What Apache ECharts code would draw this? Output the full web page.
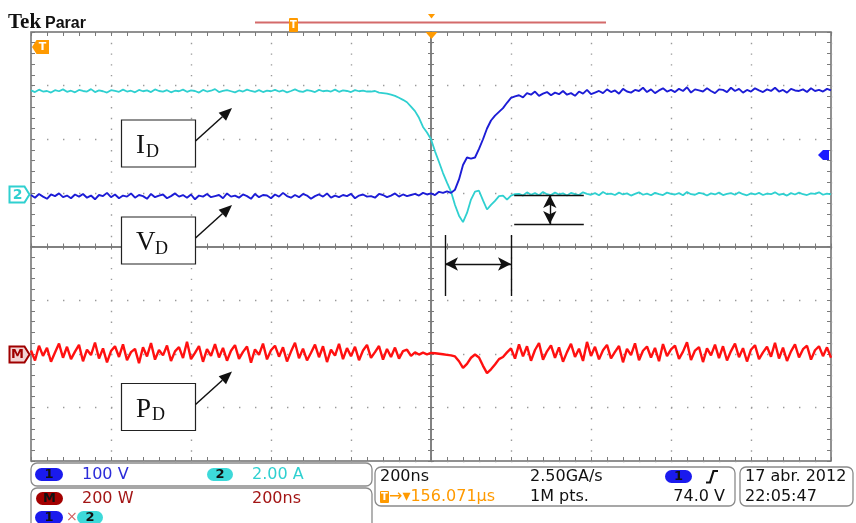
<!DOCTYPE html>
<html>
<head>
<meta charset="utf-8">
<script src="https://cdn.jsdelivr.net/npm/echarts@6.0.0/dist/echarts.min.js"></script>
<style>
  html, body { margin: 0; padding: 0; background: #fff; }
  #chart { width: 856px; height: 523px; }
</style>
</head>
<body>
<div id="chart"></div>
<script>
// sample clock: one point every 10 ns, 10 div x 200 ns/div centred on the trigger
const sampleStartNs = -1000;
const sampleStepNs = 10;

// CH2 – drain current I_D (A), 2.00 A/div
const currentA = [
  3.82, 3.76, 3.85, 3.78, 3.80, 3.74, 3.83, 3.79, 3.86, 3.77,
  3.81, 3.75, 3.84, 3.80, 3.78, 3.87, 3.76, 3.82, 3.79, 3.74,
  3.83, 3.80, 3.77, 3.85, 3.78, 3.81, 3.75, 3.84, 3.79, 3.82,
  3.76, 3.86, 3.80, 3.78, 3.83, 3.75, 3.81, 3.79, 3.85, 3.77,
  3.82, 3.80, 3.74, 3.84, 3.78, 3.81, 3.87, 3.76, 3.80, 3.83,
  3.79, 3.75, 3.82, 3.78, 3.85, 3.80, 3.77, 3.83, 3.76, 3.81,
  3.79, 3.84, 3.78, 3.82, 3.75, 3.80, 3.86, 3.79, 3.77, 3.83,
  3.80, 3.76, 3.84, 3.79, 3.81, 3.78, 3.85, 3.77, 3.82, 3.80,
  3.76, 3.83, 3.79, 3.81, 3.78,
  3.78, 3.80, 3.74, 3.72, 3.70, 3.66, 3.62, 3.55, 3.47, 3.38,
  3.22, 3.05, 2.80, 2.46, 2.25, 2.00, 1.55, 1.15, 0.74, 0.38,
  0.05, -0.45, -0.85, -1.09, -0.75, -0.25, 0.05, 0.08, -0.28, -0.62,
  -0.45, -0.30, -0.12, -0.10, -0.25, -0.10, -0.05,
  -0.04, -0.10, 0.02, -0.07, -0.01, -0.09, 0.03, -0.05, -0.08, 0.01,
  -0.06, -0.02, -0.10, 0.00, -0.05, -0.08, 0.02, -0.04, -0.07, -0.01,
  -0.09, 0.03, -0.05, -0.03, -0.08, 0.01, -0.06, -0.02, -0.10, -0.04,
  0.02, -0.07, -0.03, -0.09, 0.00, -0.05, -0.08, 0.01, -0.04, -0.06,
  -0.01, -0.09, 0.03, -0.05, -0.07, 0.00, -0.03, -0.10, -0.02, -0.06,
  0.01, -0.08, -0.04, -0.01, -0.07, 0.02, -0.05, -0.09, -0.02, -0.06,
  0.00, -0.08, -0.03, -0.05, 0.02, -0.07, -0.04, -0.10, -0.01, -0.06,
  0.01, -0.05, -0.08, -0.02, -0.04, 0.02, -0.07, -0.03, -0.06
];

// CH1 – drain voltage V_D (V), 100 V/div
const voltageV = [
  -4, -9, -2, -7, -11, -3, -6, -1, -8, -5,
  -10, -3, -7, -2, -9, -5, -12, -4, -6, 0,
  -8, -3, -10, -5, -7, -1, -9, -4, -6, -11,
  -2, -8, -5, -3, -10, -6, -1, -7, -4, -9,
  -3, -12, -5, -7, -2, -8, -6, -4, -10, -1,
  -7, -5, -9, -3, -6, -11, -2, -8, -4, -5,
  -10, -3, -7, 0, -6, -9, -4, -8, -2, -5,
  -11, -6, -3, -7, -1, -9, -5, -8, -4, -6,
  -2, -10, -5, -3, -7, -6, -9, -2, -4, -8,
  -5, -1, -7, -3, -6, -4, -2, -5, 0, -3,
  -1, -4, 2, 0, 3,
  0, 6, 25, 52, 66, 64, 66, 82, 100, 120,
  135, 144, 151, 158, 168, 177, 180, 182,
  178, 186, 183, 189, 181, 185, 188, 182, 187, 184,
  190, 183, 186, 181, 189, 185, 192, 184, 187, 190,
  186, 193, 188, 191, 185, 194, 189, 187, 192, 190,
  196, 188, 193, 186, 191, 195, 189, 192, 188, 194,
  190, 197, 187, 193, 191, 189, 195, 190, 186, 193,
  192, 188, 196, 190, 194, 187, 192, 189, 195, 191,
  188, 193, 190, 196, 189, 192, 187, 194, 191, 190,
  193, 188, 195, 190, 192, 189, 194, 191
];

// M = CH1 x CH2 – power P_D (W), 200 W/div
const powerW = [
  12, -25, 30, -8, 22, -30, 5, 38, -15, 26,
  -20, 8, 33, -28, 15, -5, 42, -18, 20, -32,
  10, 28, -12, 35, -24, 6, 18, -35, 24, -10,
  40, -22, 14, -6, 31, -27, 9, 25, -16, 45,
  -20, 3, 29, -30, 17, -8, 36, -14, 22, -26,
  11, 32, -19, 7, 27, -33, 16, -4, 38, -21,
  13, 30, -11, 24, -29, 8, 41, -17, 19, -25,
  4, 34, -13, 28, -31, 15, -7, 37, -20, 21,
  -9, 26, -24, 12, 33, -15, 6, 29, -22, 18,
  -12, 23, -18, 10, 15, -8,
  5, -3, 4, -2, 3, 2, 0, -2, -4, -6,
  -10, -28, -53, -38, -15, -3, -14, -45, -72, -58,
  -40, -20, -12, 5,
  20, -18, 35, -10, 28, -26, 14, 40, -22, 9,
  31, -15, 24, -30, 6, 37, -12, 19, -27, 44,
  -8, 26, -21, 13, 33, -17, 7, 29, -32, 18,
  -5, 39, -24, 11, 27, -14, 22, -28, 36, -9,
  16, 30, -19, 8, 43, -23, 12, 25, -31, 20,
  -6, 34, -16, 28, -25, 10, 38, -13, 21, -29,
  15, 32, -20, 5, 26, -11, 41, -18, 23, -27,
  9, 35, -14, 17, 30, -22, 13, 28, -9, 24,
  -15
];

// cursor marks (time in ns, height in screen divisions)
const delayMarkNs = [35, 200];
const delayMarkDiv = -0.326;
const delayBarDiv = [0.214, -0.923];
const stepMarkNs = [208, 382];
const stepArrowNs = 297;
const stepMarkDiv = [0.96, 0.42];

const gridColor = '#7a7a7a';
const dotColor = '#9a9a9a';
const cyan = '#2fd0d0';
const blue = '#1c1cd6';
const red = '#ff1010';
const orange = '#ff9a00';

const toPoints = (values) => values.map((v, i) => [sampleStartNs + i * sampleStepNs, v]);

const tickAxis = (extra) => Object.assign({
  axisLabel: { show: false },
  splitLine: { show: false },
  axisLine: { show: false, onZero: false },
  axisTick: { show: true, inside: true, length: 4, lineStyle: { color: gridColor, width: 1 } },
  minorTick: { show: true, splitNumber: 5, length: 4, lineStyle: { color: gridColor, width: 1 } }
}, extra);

const timeAxis = (extra) => tickAxis(Object.assign({ type: 'value', min: -1000, max: 1000, interval: 200 }, extra));
const divAxis = (extra) => tickAxis(Object.assign({ type: 'value', min: -4, max: 4, interval: 1 }, extra));

const centreLine = { show: true, onZero: true, onZeroAxisIndex: 0, lineStyle: { color: gridColor, width: 1.5 } };

const txt = (x, y, text, fill, size, extra) => ({
  type: 'text', x, y, z: 110,
  style: Object.assign({
    text, fill, fontSize: size, fontFamily: 'DejaVu Sans',
    align: 'left', verticalAlign: 'middle', textAlign: 'left', textVerticalAlign: 'middle'
  }, extra || {})
});

const pill = (x, y, w, fill, label) => [
  { type: 'rect', z: 105, shape: { x, y, width: w, height: 13, r: 6.5 }, style: { fill } },
  txt(x + w / 2, y + 6.8, label, '#111', 13, { fontWeight: 'bold', align: 'center', textAlign: 'center' })
];

const arrow = (x1, y1, x2, y2) => {
  const len = Math.hypot(x2 - x1, y2 - y1);
  const ux = (x2 - x1) / len, uy = (y2 - y1) / len;
  const bx = x2 - ux * 13, by = y2 - uy * 13;
  return [
    { type: 'line', z: 105, shape: { x1, y1, x2: bx, y2: by }, style: { stroke: '#111', lineWidth: 1.5 } },
    { type: 'polygon', z: 105, shape: { points: [[x2, y2], [bx - uy * 5.5, by + ux * 5.5], [bx + uy * 5.5, by - ux * 5.5]] }, style: { fill: '#111' } }
  ];
};

const labelBox = (top, main, subX) => [
  { type: 'rect', z: 100, shape: { x: 121.5, y: top, width: 74, height: 47 }, style: { fill: '#fff', stroke: '#222', lineWidth: 1.2 } },
  txt(136, top + 26, main, '#111', 27, { fontFamily: 'Liberation Serif' }),
  txt(subX, top + 32, 'D', '#111', 18, { fontFamily: 'Liberation Serif' }),
  ...arrow(195.5, top + 21, 232, top - 12)
];

const roundBox = (x, y, w, h) => ({
  type: 'rect', z: 100, shape: { x, y, width: w, height: h, r: 6 },
  style: { fill: 'none', stroke: '#8a8a8a', lineWidth: 1.3 }
});

const graphics = [
  // header
  txt(8, 23, 'Tek', '#111', 21, { fontFamily: 'Liberation Serif', fontWeight: 'bold' }),
  txt(45, 23.5, 'Parar', '#111', 16, { fontFamily: 'Liberation Sans', fontWeight: 'bold' }),
  { type: 'line', z: 100, shape: { x1: 255, y1: 22.5, x2: 606, y2: 22.5 }, style: { stroke: '#d46a6a', lineWidth: 2 } },
  { type: 'rect', z: 101, shape: { x: 289, y: 18, width: 9, height: 14, r: 1 }, style: { fill: orange } },
  txt(293.5, 25, 'T', '#fff', 10, { fontWeight: 'bold', align: 'center', textAlign: 'center' }),
  { type: 'polygon', z: 101, shape: { points: [[428, 14], [435, 14], [431.5, 18.5]] }, style: { fill: orange } },
  { type: 'polygon', z: 101, shape: { points: [[425.5, 32], [437.5, 32], [431.5, 39]] }, style: { fill: orange } },
  // ground / trigger markers
  { type: 'polygon', z: 101, shape: { points: [[32, 47], [36.5, 40], [49, 40], [49, 54], [36.5, 54]] }, style: { fill: orange } },
  txt(42.5, 47.5, 'T', '#fff', 11, { fontWeight: 'bold', align: 'center', textAlign: 'center' }),
  { type: 'polygon', z: 101, shape: { points: [[9.5, 186.5], [24.5, 186.5], [29.5, 194.5], [24.5, 202.5], [9.5, 202.5]] }, style: { fill: '#fff', stroke: cyan, lineWidth: 2 } },
  txt(17.5, 195, '2', cyan, 14, { fontWeight: 'bold', align: 'center', textAlign: 'center' }),
  { type: 'polygon', z: 101, shape: { points: [[9.5, 346.5], [24.5, 346.5], [29.5, 354.5], [24.5, 362.5], [9.5, 362.5]] }, style: { fill: '#f2d4d4', stroke: '#a00000', lineWidth: 2 } },
  txt(17.5, 355, 'M', '#a00000', 13, { fontWeight: 'bold', align: 'center', textAlign: 'center' }),
  { type: 'polygon', z: 101, shape: { points: [[818, 155], [823, 150], [829, 150], [829, 160], [823, 160]] }, style: { fill: '#1a1aff' } },
  // trace labels
  ...labelBox(120, 'I', 146),
  ...labelBox(217, 'V', 155),
  ...labelBox(383.5, 'P', 152),
  // status area
  roundBox(31, 463, 341, 23),
  roundBox(31, 488, 341, 45),
  roundBox(375, 467, 360, 39),
  roundBox(740, 467, 113, 39),
  ...pill(35, 468, 28, '#1a1aee', '1'),
  txt(82, 474.5, '100 V', '#2b2bd9', 16),
  ...pill(207, 468, 26, '#3dd9d9', '2'),
  txt(252, 474.5, '2.00 A', cyan, 16),
  ...pill(36, 492, 27, '#a30000', 'M'),
  txt(82, 498.5, '200 W', '#a31515', 16),
  txt(252, 498.5, '200ns', '#a31515', 16),
  ...pill(35, 511, 28, '#1a1aee', '1'),
  txt(66, 517.5, '×', '#d06060', 14),
  ...pill(77, 511, 26, '#3dd9d9', '2'),
  txt(380, 477, '200ns', '#111', 16),
  txt(530, 477, '2.50GA/s', '#111', 16),
  ...pill(665, 470, 27, '#1a1aee', '1'),
  { type: 'polyline', z: 105, shape: { points: [[706, 482.5], [710, 482.5], [713.5, 471], [718, 471]] }, style: { stroke: '#111', lineWidth: 2.2, fill: 'none' } },
  { type: 'rect', z: 105, shape: { x: 380, y: 491, width: 9, height: 12, r: 1 }, style: { fill: orange } },
  txt(384.5, 497.5, 'T', '#fff', 10, { fontWeight: 'bold', align: 'center', textAlign: 'center' }),
  txt(389, 497, '→▾156.071µs', orange, 16),
  txt(530, 497, '1M pts.', '#111', 16),
  txt(725, 497, '74.0 V', '#111', 16, { align: 'right', textAlign: 'right' }),
  txt(745, 477, '17 abr. 2012', '#111', 16),
  txt(745, 497, '22:05:47', '#111', 16)
];

const noArrow = { symbol: 'none' };

const chart = echarts.init(document.getElementById('chart'), null, { renderer: 'canvas' });
chart.setOption({
  animation: false,
  backgroundColor: '#fff',
  grid: {
    left: 31, top: 32, width: 800, height: 429,
    show: true, borderColor: '#6e6e6e', borderWidth: 1.5, backgroundColor: 'transparent'
  },
  xAxis: [
    timeAxis({
      position: 'bottom',
      axisLine: centreLine,
      axisTick: { show: true, inside: true, length: 3, lineStyle: { color: gridColor } },
      minorTick: { show: true, splitNumber: 5, length: 3, lineStyle: { color: gridColor } },
      splitLine: { show: true, lineStyle: { color: dotColor, width: 1.4, type: [1.4, 9.325] } }
    }),
    timeAxis({
      position: 'bottom',
      axisLine: centreLine,
      axisTick: { show: true, inside: false, length: 3, lineStyle: { color: gridColor } },
      minorTick: { show: true, splitNumber: 5, length: 3, lineStyle: { color: gridColor } }
    }),
    timeAxis({ position: 'top' }),
    timeAxis({ position: 'bottom' })
  ],
  yAxis: [
    divAxis({
      position: 'left',
      axisLine: centreLine,
      axisTick: { show: true, inside: true, length: 3, lineStyle: { color: gridColor } },
      minorTick: { show: true, splitNumber: 5, length: 3, lineStyle: { color: gridColor } },
      splitLine: { show: true, lineStyle: { color: dotColor, width: 1.4, type: [1.4, 14.6] } }
    }),
    divAxis({
      position: 'left',
      axisLine: centreLine,
      axisTick: { show: true, inside: false, length: 3, lineStyle: { color: gridColor } },
      minorTick: { show: true, splitNumber: 5, length: 3, lineStyle: { color: gridColor } }
    }),
    divAxis({ position: 'left' }),
    divAxis({ position: 'right' }),
    { type: 'value', show: false, min: -500, max: 300, interval: 100 },
    { type: 'value', show: false, min: -10, max: 6, interval: 2 },
    { type: 'value', show: false, min: -400, max: 1200, interval: 200 }
  ],
  series: [
    {
      name: 'I_D', type: 'line', xAxisIndex: 0, yAxisIndex: 5,
      data: toPoints(currentA), showSymbol: false, symbol: 'none',
      lineStyle: { color: cyan, width: 1.8 }, z: 3
    },
    {
      name: 'V_D', type: 'line', xAxisIndex: 0, yAxisIndex: 4,
      data: toPoints(voltageV), showSymbol: false, symbol: 'none',
      lineStyle: { color: blue, width: 1.9 }, z: 4
    },
    {
      name: 'P_D', type: 'line', xAxisIndex: 0, yAxisIndex: 6,
      data: toPoints(powerW), showSymbol: false, symbol: 'none',
      lineStyle: { color: red, width: 2.4 }, z: 3
    },
    {
      name: 'cursors', type: 'line', xAxisIndex: 0, yAxisIndex: 0, data: [], z: 6,
      markLine: {
        silent: true,
        symbol: ['arrow', 'arrow'],
        symbolSize: [10, 13],
        label: { show: false },
        lineStyle: { color: '#111', width: 1.4, type: 'solid' },
        data: [
          [{ coord: [delayMarkNs[0], delayMarkDiv] }, { coord: [delayMarkNs[1], delayMarkDiv] }],
          [Object.assign({ coord: [delayMarkNs[0], delayBarDiv[0]] }, noArrow), Object.assign({ coord: [delayMarkNs[0], delayBarDiv[1]] }, noArrow)],
          [Object.assign({ coord: [delayMarkNs[1], delayBarDiv[0]] }, noArrow), Object.assign({ coord: [delayMarkNs[1], delayBarDiv[1]] }, noArrow)],
          [Object.assign({ coord: [stepMarkNs[0], stepMarkDiv[0]] }, noArrow), Object.assign({ coord: [stepMarkNs[1], stepMarkDiv[0]] }, noArrow)],
          [Object.assign({ coord: [stepMarkNs[0], stepMarkDiv[1]] }, noArrow), Object.assign({ coord: [stepMarkNs[1], stepMarkDiv[1]] }, noArrow)],
          [{ coord: [stepArrowNs, stepMarkDiv[0]] }, { coord: [stepArrowNs, stepMarkDiv[1]] }]
        ]
      }
    }
  ],
  graphic: graphics
});
</script>
</body>
</html>
